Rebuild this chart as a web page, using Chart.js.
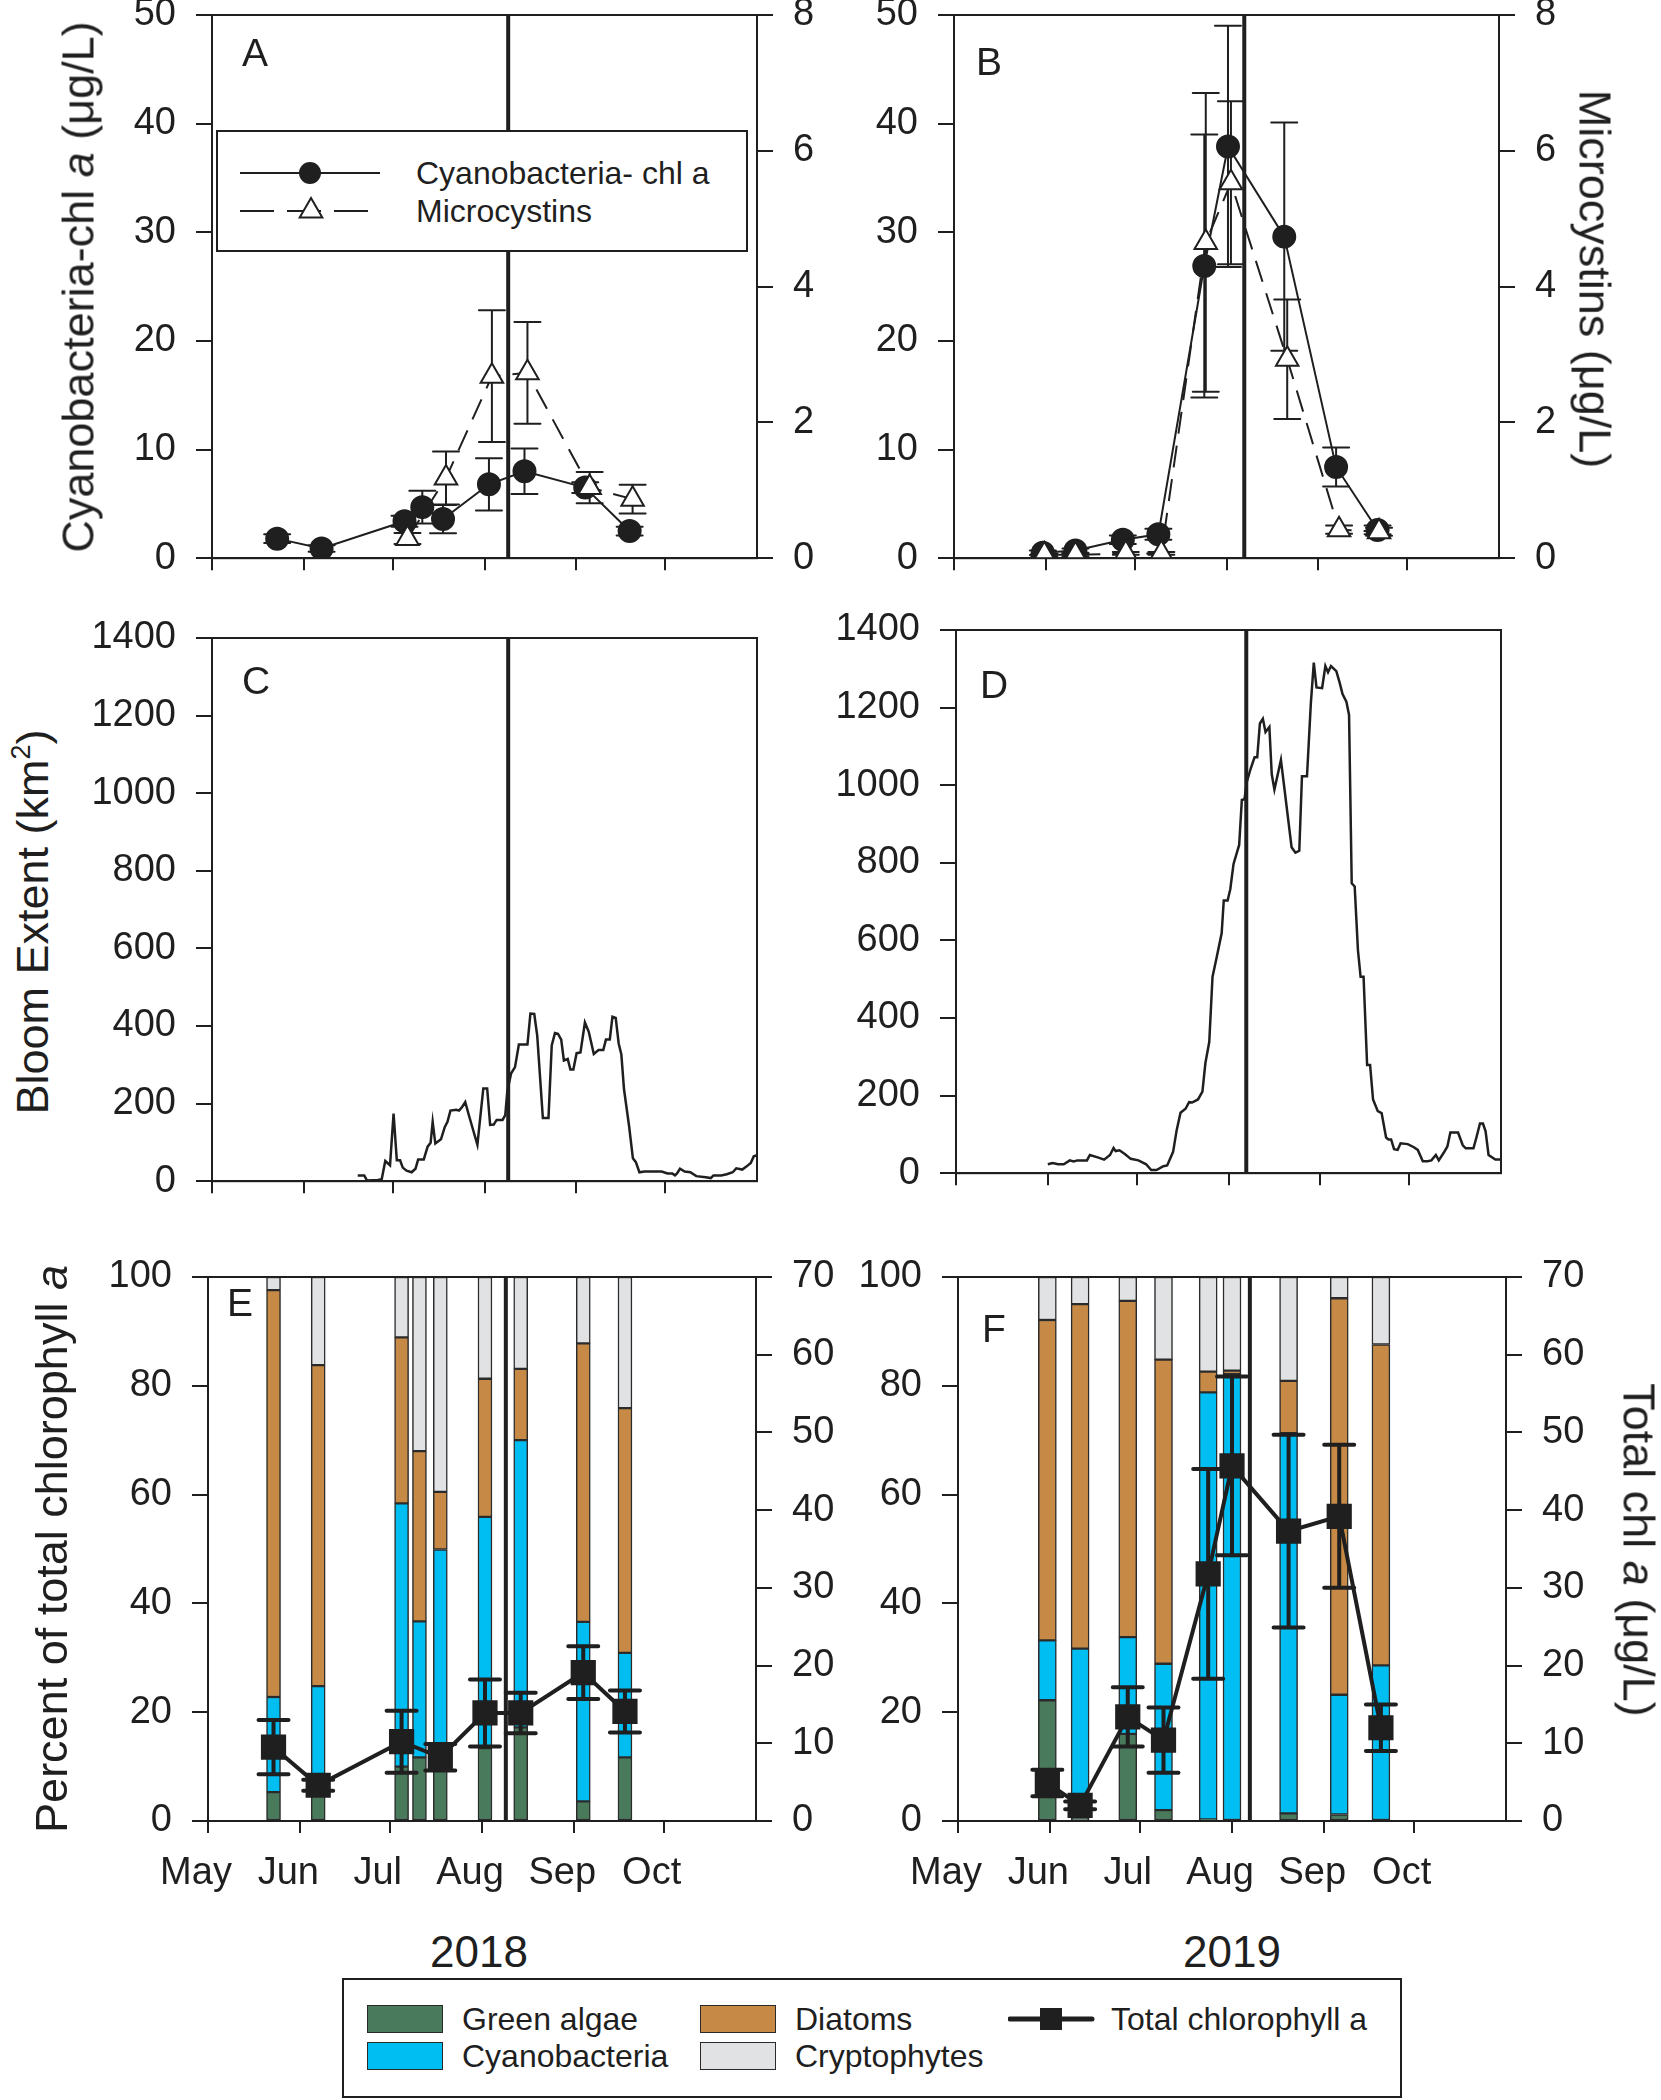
<!DOCTYPE html>
<html>
<head>
<meta charset="utf-8">
<title>Cyanobacteria, bloom extent and phytoplankton groups, 2018 and 2019</title>
<script src="https://cdn.jsdelivr.net/npm/chart.js@4.4.1/dist/chart.umd.min.js"></script>
<style>
  body { margin: 0; background: #fff; }
  #page { position: relative; width: 1661px; height: 2100px; overflow: hidden; background: #fff;
          font-family: "Liberation Sans", Arial, Helvetica, sans-serif; color: #1f1f1f; }
  #page canvas { position: absolute; z-index: 1; }
  .ov { position: absolute; z-index: 2; white-space: nowrap; line-height: 1; }
  .ttl { font-size: 45px; transform: translate(-50%, -50%) rotate(-90deg); }
  .ttl.cw { transform: translate(-50%, -50%) rotate(90deg); }
  .lab { font-size: 39px; }
  .yr { font-size: 44px; transform: translate(-50%, -50%); }
  .box { border: 2px solid #1f1f1f; background: #fff; box-sizing: border-box; }
  .box .tx { position: absolute; font-size: 32px; line-height: 38px; white-space: nowrap; }
  .sw { position: absolute; width: 76px; height: 28px; border: 1.5px solid #2a2a2a; box-sizing: border-box; }
  sup { font-size: 0.6em; line-height: 0; vertical-align: 0.65em; }
</style>
</head>
<body>
<div id="page">
  <!-- axis titles -->
  <div class="ov ttl" style="left:78px;top:287px">Cyanobacteria-chl <i>a</i> (μg/L)</div>
  <div class="ov ttl" style="left:32px;top:922px">Bloom Extent (km<sup>2</sup>)</div>
  <div class="ov ttl" style="left:51px;top:1549px">Percent of total chlorophyll <i>a</i></div>
  <div class="ov ttl cw" style="left:1595px;top:279px">Microcystins (μg/L)</div>
  <div class="ov ttl cw" style="left:1639px;top:1550px">Total chl <i>a</i> (μg/L)</div>

  <!-- panel letters -->
  <div class="ov lab" style="left:242px;top:33px">A</div>
  <div class="ov lab" style="left:976px;top:42px">B</div>
  <div class="ov lab" style="left:242px;top:661px">C</div>
  <div class="ov lab" style="left:980px;top:665px">D</div>
  <div class="ov lab" style="left:227px;top:1283px">E</div>
  <div class="ov lab" style="left:982px;top:1309px">F</div>

  <!-- years -->
  <div class="ov yr" style="left:479px;top:1952px">2018</div>
  <div class="ov yr" style="left:1232px;top:1952px">2019</div>

  <!-- legend of panel A -->
  <div class="ov box" style="left:216px;top:130px;width:532px;height:122px">
    <svg width="170" height="118" style="position:absolute;left:0;top:0">
      <line x1="22" y1="41" x2="162" y2="41" stroke="#1f1f1f" stroke-width="2"/>
      <circle cx="92" cy="41" r="11" fill="#1f1f1f"/>
      <line x1="22" y1="79" x2="150" y2="79" stroke="#1f1f1f" stroke-width="2" stroke-dasharray="34 13"/>
      <polygon points="93,66 81.7,85.5 104.3,85.5" fill="#fff" stroke="#1f1f1f" stroke-width="2"/>
    </svg>
    <div class="tx" style="left:198px;top:22px">Cyanobacteria- chl a</div>
    <div class="tx" style="left:198px;top:60px">Microcystins</div>
  </div>

  <!-- shared legend -->
  <div class="ov box" style="left:342px;top:1978px;width:1060px;height:120px">
    <div class="sw" style="left:23px;top:25px;background:#4a7a5c"></div>
    <div class="sw" style="left:23px;top:62px;background:#00bdf2"></div>
    <div class="tx" style="left:118px;top:20px">Green algae</div>
    <div class="tx" style="left:118px;top:57px">Cyanobacteria</div>
    <div class="sw" style="left:356px;top:25px;background:#c68a46"></div>
    <div class="sw" style="left:356px;top:62px;background:#e1e2e4"></div>
    <div class="tx" style="left:451px;top:20px">Diatoms</div>
    <div class="tx" style="left:451px;top:57px">Cryptophytes</div>
    <svg width="90" height="40" style="position:absolute;left:664px;top:19px">
      <line x1="2" y1="20" x2="84" y2="20" stroke="#1f1f1f" stroke-width="5" stroke-linecap="round"/>
      <rect x="32" y="9" width="22" height="22" fill="#1f1f1f"/>
    </svg>
    <div class="tx" style="left:767px;top:20px">Total chlorophyll a</div>
  </div>
</div>

<script>
// ---- shared axis values (day of year) ----
const monthStarts = [121, 152, 182, 213, 244, 274];
const monthNames = ['May', 'Jun', 'Jul', 'Aug', 'Sep', 'Oct'];
const dayMin = 121, dayMax = 305;
const splitDay2018 = 221;
const splitDay2019 = 219;

// ---- A: 2018 cyanobacteria chl a (left) and microcystins (right) ----
const aCyanoDays = [143, 158, 186, 192, 199, 214.5, 226.5, 247, 262];
const aCyanoChl = [1.8, 0.9, 3.4, 4.7, 3.6, 6.8, 8.0, 6.5, 2.5];
const aCyanoErr = [0.4, 0.3, 0.5, 1.5, 1.3, 2.4, 2.1, 0.5, 0.4];
const aMcDays = [187, 200, 215.5, 227.5, 248.5, 263];
const aMc = [0.29, 1.18, 2.68, 2.73, 1.04, 0.87];
const aMcErr = [0.08, 0.39, 0.97, 0.75, 0.23, 0.21];

// ---- B: 2019 ----
const bCyanoDays = [151, 162, 178, 190, 205.5, 213.5, 232.5, 250, 264];
const bCyanoChl = [0.5, 0.7, 1.7, 2.2, 26.9, 37.9, 29.6, 8.4, 2.6];
const bCyanoErr = [0.2, 0.2, 0.4, 0.5, 12.1, 11.1, 10.5, 1.8, 0.4];
const bMcDays = [151.5, 162, 179, 191, 206, 214.5, 233.5, 251, 264.5];
const bMc = [0.05, 0.05, 0.07, 0.07, 4.65, 5.53, 2.93, 0.42, 0.39];
const bMcErr = [0.02, 0.02, 0.02, 0.02, 2.2, 1.2, 0.88, 0.06, 0.06];

// ---- C: 2018 bloom extent (km2) ----
const cDays = [170.2, 172.4, 173.3, 177, 178.3, 179.5, 181.1, 182.3, 183.4, 184.5, 185.4, 186.7,
  188.4, 189.7, 190.6, 192.5, 193.8, 194.8, 195.5, 196.4, 198.3, 199.6, 200.5, 201.5, 203.5, 204.4,
  205.5, 206.5, 207.8, 210.6, 212.6, 213.9, 214.9, 216.1, 217.1, 219.1, 220, 220.7, 222, 223.3,
  224.6, 227.5, 228.5, 229.8, 230.8, 232.7, 234.6, 235.7, 236.8, 237.8, 238.9, 239.8, 241.1, 242,
  243, 244.1, 245.4, 246.9, 248.2, 249.9, 251.5, 253.1, 254, 255.3, 256.2, 257.3, 258.3, 259.2,
  260.1, 261.8, 263.1, 264.1, 265.3, 267, 268.9, 272.8, 274.8, 276.4, 277.3, 278, 279, 280.6,
  282.5, 284.5, 287.7, 289.4, 290.3, 292.9, 294.8, 296.8, 298, 300, 301.3, 302.9, 303.9, 305];
const cBloom = [15, 15, 2, 3, 5, 52, 41, 174, 54, 54, 35, 27,
  23, 32, 56, 56, 89, 99, 153, 97, 108, 140, 153, 182, 184, 182,
  192, 204, 168, 94, 239, 239, 145, 146, 158, 158, 170, 232, 278, 294,
  352, 352, 432, 431, 375, 163, 163, 350, 382, 380, 365, 311, 315, 288,
  288, 330, 332, 409, 385, 328, 338, 338, 365, 365, 424, 421, 355, 327,
  237, 143, 59, 49, 23, 25, 25, 25, 20, 20, 15, 20, 32, 25,
  23, 13, 10, 8, 15, 15, 18, 23, 33, 30, 37, 47, 64, 67];

// ---- D: 2019 bloom extent (km2) ----
const dDays = [152, 153.6, 155.5, 157.4, 159.4, 160.7, 162, 165.2, 166.2, 169.1, 171, 173,
  174.2, 174.9, 176.2, 178.1, 180, 182.6, 185.2, 186.9, 188.7, 191, 192.3, 194.3, 195.5, 196.8,
  198.5, 199.7, 200.7, 202.7, 204.2, 205.2, 206.5, 207.6, 209.1, 210.7, 211.4, 212.7, 213.6, 214.7,
  216.6, 217.5, 218.4, 219.2, 220.5, 221.8, 222.7, 223.6, 224.6, 225.5, 226.8, 227.6, 228.5, 230.7,
  234.3, 235.6, 236.9, 237.8, 239.5, 240.8, 241.8, 242.7, 244.6, 245.7, 246.6, 247.6, 249.4, 250.5,
  251.5, 252.8, 253.7, 254.6, 255.6, 256.7, 257.6, 258.6, 259.8, 260.8, 261.8, 263.4, 264.7, 266.2,
  267, 267.9, 268.9, 270.1, 271.1, 273.5, 275.6, 276.9, 278.6, 280.2, 281.5, 283, 284, 285.6,
  286.9, 287.9, 290.5, 292.1, 293.1, 295.7, 296.7, 297.9, 298.9, 299.8, 300.8, 303.1, 305];
const dBloom = [23, 26, 23, 23, 33, 30, 33, 33, 47, 40, 35, 47,
  65, 57, 59, 49, 37, 33, 23, 8, 8, 18, 20, 55, 111, 156,
  166, 183, 182, 190, 210, 284, 338, 506, 560, 619, 703, 703, 732, 797,
  846, 962, 964, 1009, 1043, 1072, 1072, 1159, 1171, 1137, 1150, 1028, 989, 1065,
  840, 826, 831, 1023, 1023, 1211, 1316, 1252, 1250, 1307, 1291, 1307, 1294, 1265,
  1235, 1215, 1181, 747, 739, 575, 506, 506, 279, 279, 190, 160, 155, 92,
  87, 87, 62, 60, 77, 75, 67, 60, 31, 31, 33, 47, 33, 52,
  69, 105, 105, 72, 64, 64, 92, 128, 128, 108, 47, 35, 35];

// ---- E: 2018 percent of total chlorophyll a, and total chl a ----
const eDays = [143, 158, 186, 192, 199, 214, 226, 247, 261];
const eGreen = [5.3, 6, 10, 11.7, 9.5, 13.4, 17.2, 3.6, 11.7];
const eCyano = [17.5, 18.8, 48.4, 25, 40.4, 42.5, 52.8, 33, 19.2];
const eDiatom = [74.8, 59, 30.5, 31.3, 10.6, 25.4, 13.1, 51.2, 45];
const eCrypto = [2.4, 16.2, 11.1, 32, 39.5, 18.7, 16.9, 12.2, 24.1];
const eChlDays = [143, 158, 186, 199, 214, 226, 247, 261];
const eChl = [9.5, 4.6, 10.2, 8.2, 13.9, 13.9, 19.1, 14.1];
const eChlErr = [3.5, 0.7, 4.0, 1.7, 4.3, 2.6, 3.4, 2.7];

// ---- F: 2019 ----
const fDays = [151, 162, 178, 190, 205, 213, 232, 249, 263];
const fGreen = [22.2, 0.5, 16, 2, 0.3, 0, 1.4, 1.2, 0];
const fCyano = [11, 31.2, 17.8, 26.9, 78.5, 82.2, 69.9, 22, 28.6];
const fDiatom = [58.9, 63.3, 61.8, 55.9, 3.8, 0.6, 9.6, 72.9, 59];
const fCrypto = [7.9, 5, 4.4, 15.2, 17.4, 17.2, 19.1, 3.9, 12.4];
const fChl = [4.9, 2.0, 13.4, 10.4, 31.8, 45.7, 37.3, 39.2, 12];
const fChlErr = [1.7, 0.5, 3.8, 4.2, 13.5, 11.5, 12.4, 9.2, 3];

const INK = '#1f1f1f';
const FONT = '"Liberation Sans", Arial, Helvetica, sans-serif';
const GREEN = '#4a7a5c', CYAN = '#00bdf2', DIATOM = '#c68a46', CRYPTO = '#e1e2e4';
Chart.defaults.font.family = FONT;
Chart.defaults.color = INK;

const pts = (xs, ys) => xs.map((x, i) => ({x, y: ys[i]}));

// error bars drawn just before the dataset they belong to
const errorBars = {
  id: 'errorBars',
  beforeDatasetDraw(chart, args) {
    const ds = chart.data.datasets[args.index];
    if (!ds.errors) return;
    const ctx = chart.ctx, scale = args.meta.vScale, half = ds.errCap / 2;
    ctx.save();
    ctx.strokeStyle = INK;
    ctx.lineWidth = ds.errWidth;
    ctx.lineCap = 'round';
    args.meta.data.forEach((el, i) => {
      const v = ds.data[i].y, e = ds.errors[i];
      const y1 = scale.getPixelForValue(v + e);
      const y2 = scale.getPixelForValue(Math.max(0, v - e));
      ctx.beginPath();
      ctx.moveTo(el.x, y1); ctx.lineTo(el.x, y2);
      ctx.moveTo(el.x - half, y1); ctx.lineTo(el.x + half, y1);
      ctx.moveTo(el.x - half, y2); ctx.lineTo(el.x + half, y2);
      ctx.stroke();
    });
    ctx.restore();
  }
};

// thick vertical line at the split date
const splitLine = {
  id: 'splitLine',
  beforeDatasetsDraw(chart, args, opts) {
    if (opts.day == null) return;
    const {ctx, chartArea} = chart;
    const x = chart.scales.x.getPixelForValue(opts.day);
    ctx.save();
    ctx.strokeStyle = INK;
    ctx.lineWidth = 4;
    ctx.beginPath();
    ctx.moveTo(x, chartArea.top);
    ctx.lineTo(x, chartArea.bottom);
    ctx.stroke();
    ctx.restore();
  }
};

// closed box round the plot
const frame = {
  id: 'frame',
  afterDraw(chart) {
    const {ctx, chartArea: a} = chart;
    ctx.save();
    ctx.strokeStyle = INK;
    ctx.lineWidth = 2;
    ctx.strokeRect(a.left, a.top, a.right - a.left, a.bottom - a.top);
    ctx.restore();
  }
};

function xAxis(showLabels, h) {
  return {
    type: 'linear', min: dayMin, max: dayMax, stacked: true, offset: false,
    afterBuildTicks: s => { s.ticks = monthStarts.map(v => ({value: v})); },
    afterFit: s => { s.height = h; },
    ticks: {
      display: showLabels, autoSkip: false, maxRotation: 0, minRotation: 0,
      padding: 18, labelOffset: -12, color: INK, font: {size: 38},
      callback: v => monthNames[monthStarts.indexOf(v)]
    },
    grid: {drawOnChartArea: false, offset: false, tickLength: 12, color: INK, lineWidth: 2},
    border: {color: INK, width: 2}
  };
}

function yAxis(pos, max, step, stacked) {
  return {
    type: 'linear', position: pos, min: 0, max, stacked: !!stacked,
    afterFit: s => { s.width = 120; },
    ticks: {stepSize: step, autoSkip: false, padding: 20, color: INK, font: {size: 38},
            callback: v => String(v)},
    grid: {drawOnChartArea: false, tickLength: 16, color: INK, lineWidth: 2},
    border: {color: INK, width: 2}
  };
}

const page = document.getElementById('page');

function panel(rect, bottomH, rightAxis, type, datasets, scales, splitDay) {
  const padL = 130, padR = 130, padT = 60, padB = 10;
  const c = document.createElement('canvas');
  c.width = rect.R - rect.L + padL + padR;
  c.height = rect.B - rect.T + padT + bottomH + padB;
  c.style.left = (rect.L - padL) + 'px';
  c.style.top = (rect.T - padT) + 'px';
  page.appendChild(c);
  return new Chart(c, {
    type,
    data: {datasets},
    options: {
      responsive: false, animation: false, devicePixelRatio: 1,
      layout: {padding: {left: padL - 120, right: rightAxis ? padR - 120 : padR, top: padT, bottom: padB}},
      plugins: {legend: {display: false}, tooltip: {enabled: false}, splitLine: {day: splitDay}},
      scales
    },
    plugins: [errorBars, splitLine, frame]
  });
}

const circleSet = (xs, ys, es) => ({
  label: 'Cyanobacteria- chl a', data: pts(xs, ys), errors: es, errCap: 26, errWidth: 2,
  yAxisID: 'y', order: 1, borderColor: INK, borderWidth: 2, tension: 0,
  pointRadius: 11, pointBackgroundColor: INK, pointBorderColor: INK
});
const triangleSet = (xs, ys, es) => ({
  label: 'Microcystins', data: pts(xs, ys), errors: es, errCap: 26, errWidth: 2,
  yAxisID: 'yR', order: 0, borderColor: INK, borderWidth: 2, borderDash: [22, 12], tension: 0,
  pointStyle: 'triangle', pointRadius: 13, pointBorderWidth: 2,
  pointBackgroundColor: '#fff', pointBorderColor: INK
});
const bloomSet = (xs, ys) => ({
  label: 'Bloom extent', data: pts(xs, ys), borderColor: INK, borderWidth: 2.5,
  pointRadius: 0, tension: 0
});
const barSet = (label, xs, ys, color, w) => ({
  type: 'bar', label, data: pts(xs, ys), backgroundColor: color, borderColor: '#2b2b2b',
  borderWidth: 1.5, borderSkipped: false, barThickness: w, stack: 'pct', yAxisID: 'y', order: 2
});
const chlSet = (xs, ys, es) => ({
  type: 'line', label: 'Total chlorophyll a', data: pts(xs, ys), errors: es, errCap: 30, errWidth: 4,
  yAxisID: 'yR', order: 0, borderColor: INK, borderWidth: 4, tension: 0,
  pointStyle: 'rect', pointRadius: 15, pointBackgroundColor: INK, pointBorderColor: INK
});

// A
panel({L: 212, R: 757, T: 15, B: 561}, 30, true, 'line',
  [circleSet(aCyanoDays, aCyanoChl, aCyanoErr), triangleSet(aMcDays, aMc, aMcErr)],
  {x: xAxis(false, 30), y: yAxis('left', 50, 10), yR: yAxis('right', 8, 2)}, splitDay2018);

// B
panel({L: 954, R: 1499, T: 15, B: 561}, 30, true, 'line',
  [circleSet(bCyanoDays, bCyanoChl, bCyanoErr), triangleSet(bMcDays, bMc, bMcErr)],
  {x: xAxis(false, 30), y: yAxis('left', 50, 10), yR: yAxis('right', 8, 2)}, splitDay2019);

// C
panel({L: 212, R: 757, T: 638, B: 1184}, 30, false, 'line',
  [bloomSet(cDays, cBloom)],
  {x: xAxis(false, 30), y: yAxis('left', 1400, 200)}, splitDay2018);

// D
panel({L: 956, R: 1501, T: 630, B: 1176}, 30, false, 'line',
  [bloomSet(dDays, dBloom)],
  {x: xAxis(false, 30), y: yAxis('left', 1400, 200)}, splitDay2019);

// E
panel({L: 208, R: 756, T: 1277, B: 1821}, 80, true, 'bar',
  [barSet('Green algae', eDays, eGreen, GREEN, 14),
   barSet('Cyanobacteria', eDays, eCyano, CYAN, 14),
   barSet('Diatoms', eDays, eDiatom, DIATOM, 14),
   barSet('Cryptophytes', eDays, eCrypto, CRYPTO, 14),
   chlSet(eChlDays, eChl, eChlErr)],
  {x: xAxis(true, 80), y: yAxis('left', 100, 20, true), yR: yAxis('right', 70, 10)}, splitDay2018);

// F
panel({L: 958, R: 1506, T: 1277, B: 1821}, 80, true, 'bar',
  [barSet('Green algae', fDays, fGreen, GREEN, 18),
   barSet('Cyanobacteria', fDays, fCyano, CYAN, 18),
   barSet('Diatoms', fDays, fDiatom, DIATOM, 18),
   barSet('Cryptophytes', fDays, fCrypto, CRYPTO, 18),
   chlSet(fDays, fChl, fChlErr)],
  {x: xAxis(true, 80), y: yAxis('left', 100, 20, true), yR: yAxis('right', 70, 10)}, splitDay2019);
</script>
</body>
</html>
